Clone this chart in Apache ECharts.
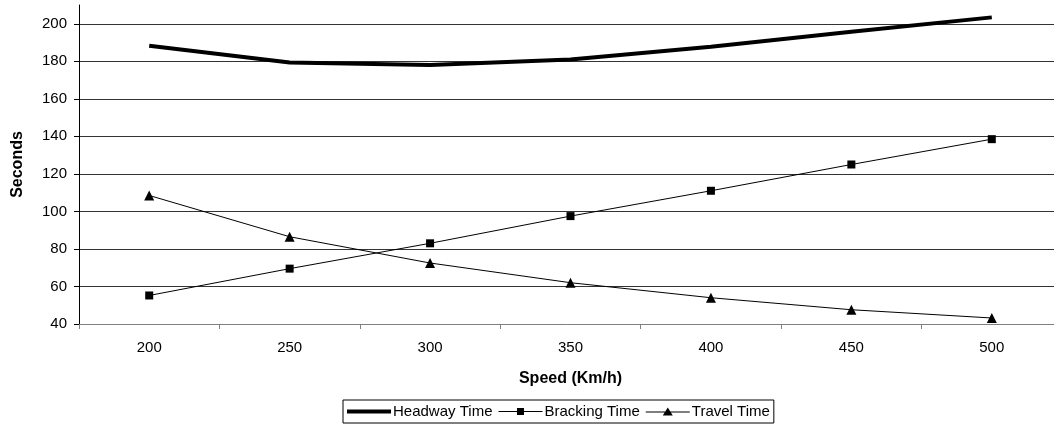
<!DOCTYPE html>
<html><head><meta charset="utf-8">
<script src="https://cdn.jsdelivr.net/npm/echarts@6/dist/echarts.min.js"></script>
<style>html,body{margin:0;padding:0;background:#fff}#c{width:1054px;height:448px}</style>
</head><body><div id="c"></div>
<script>
const categories = ['200','250','300','350','400','450','500'];
const headway = [188.3, 179.4, 178, 181, 187.7, 195.7, 203.4];
const bracking = [55.2, 69.5, 83, 97.5, 111, 125, 138.5];
const travel = [108.5, 86.5, 72.5, 62, 54, 47.6, 43.2];
const yMin = 40, yMax = 210, yStep = 20;

const font = 'Liberation Sans, Arial, sans-serif';
const chart = echarts.init(document.getElementById('c'), null, {renderer:'canvas'});
chart.setOption({
  animation: false,
  textStyle: {fontFamily: font},
  grid: {left: 79, right: -8, top: 5, bottom: 124, containLabel: false, outerBoundsMode: 'none'},
  xAxis: {
    type: 'category', data: categories, boundaryGap: true,
    name: 'Speed (Km/h)', nameLocation: 'middle', nameGap: 47,
    nameTextStyle: {fontFamily: font, fontWeight: 'bold', fontSize: 16, color: '#000'},
    axisLine: {lineStyle: {color: '#808080', width: 1}},
    axisTick: {show: true, length: 5, alignWithLabel: false, lineStyle: {color: '#808080'}},
    axisLabel: {fontFamily: font, fontSize: 15, color: '#000', margin: 16},
    splitLine: {show: false}
  },
  yAxis: {
    type: 'value', min: yMin, max: yMax, interval: yStep,
    name: 'Seconds', nameLocation: 'middle', nameGap: 53,
    nameTextStyle: {fontFamily: font, fontWeight: 'bold', fontSize: 16, color: '#000'},
    axisLine: {show: true, lineStyle: {color: '#000', width: 1}},
    axisTick: {show: true, length: 5, lineStyle: {color: '#000'}},
    axisLabel: {fontFamily: font, fontSize: 15, color: '#000', margin: 12, showMaxLabel: false},
    splitLine: {show: true, showMaxLine: false, showMinLine: false, lineStyle: {color: '#333', width: 1}}
  },
  legend: {
    left: 343, top: 400,
    orient: 'horizontal',
    data: [
      {name: 'Headway Time', icon: 'path://M0,0M44,9M0,2.5H44V6.5H0Z'},
      {name: 'Bracking Time', icon: 'path://M0,0M44,9M0,4H44V5H0ZM18.5,1H25.5V8H18.5Z'},
      {name: 'Travel Time', icon: 'path://M0,0M44,9M0,4.5H44V5.5H0ZM22,0.5L27,8.5H17Z'}
    ],
    itemWidth: 44, itemHeight: 9, itemGap: 6,
    padding: [4, 4, 4, 4],
    borderColor: '#000', borderWidth: 1,
    textStyle: {fontFamily: font, fontSize: 15, color: '#000', padding: [0,0,0,-3]}
  },
  series: [
    {name: 'Headway Time', type: 'line', data: headway, symbol: 'none',
     lineStyle: {color: '#000', width: 4}, itemStyle: {color: '#000'}},
    {name: 'Bracking Time', type: 'line', data: bracking, symbol: 'rect', symbolSize: 8,
     lineStyle: {color: '#000', width: 1}, itemStyle: {color: '#000'}},
    {name: 'Travel Time', type: 'line', data: travel, symbol: 'triangle', symbolSize: 10,
     lineStyle: {color: '#000', width: 1}, itemStyle: {color: '#000'}}
  ]
});
</script></body></html>
